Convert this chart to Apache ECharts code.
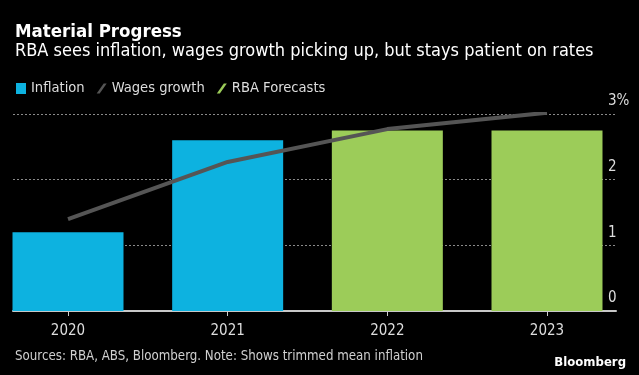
<!DOCTYPE html>
<html>
<head>
<meta charset="utf-8">
<script src="https://cdn.jsdelivr.net/npm/echarts@6/dist/echarts.min.js"></script>
<style>
  html, body { margin: 0; padding: 0; background: #000; }
  #chart { width: 639px; height: 375px; }
</style>
</head>
<body>
<div id="chart"></div>
<script>
const years = ['2020', '2021', '2022', '2023']
const inflation = [1.2, 2.6, null, null]
const forecasts = [null, null, 2.75, 2.75]
const wages = [1.4, 2.27, 2.77, 3.02]
const yTicks = [0, 1, 2, 3]

const font = '"DejaVu Sans Condensed", sans-serif'
const slash = 'path://M0,10 L7,0 L10,0 L3,10 Z'

const chart = echarts.init(document.getElementById('chart'))

chart.setOption({
  backgroundColor: '#000',
  animation: false,
  textStyle: { fontFamily: font },
  title: [
    {
      text: 'Material Progress',
      left: 10, top: 18,
      textStyle: { color: '#fff', fontSize: 18.5, fontWeight: 'bold', fontFamily: font }
    },
    {
      text: 'RBA sees inflation, wages growth picking up, but stays patient on rates',
      left: 10, top: 37,
      textStyle: { color: '#fff', fontSize: 18, fontWeight: 'normal', fontFamily: font }
    },
    {
      text: 'Sources: RBA, ABS, Bloomberg. Note: Shows trimmed mean inflation',
      left: 10, top: 345,
      textStyle: { color: '#d0d0d0', fontSize: 13.2, fontWeight: 'normal', fontFamily: font }
    },
    {
      text: 'Bloomberg',
      right: 8, top: 351,
      textStyle: { color: '#fff', fontSize: 13, fontWeight: 'bold', fontFamily: font }
    }
  ],
  legend: {
    left: 11, top: 76,
    itemWidth: 10, itemHeight: 11, itemGap: 12,
    textStyle: { color: '#ddd', fontSize: 14.6, fontFamily: font },
    data: [
      { name: 'Inflation', icon: 'rect' },
      { name: 'Wages growth', icon: slash, itemStyle: { color: '#555' } },
      { name: 'RBA Forecasts', icon: slash, itemStyle: { color: '#9ccc59' } }
    ]
  },
  grid: [
    { left: 68, right: 92, top: 114, bottom: 64 },
    { left: 13, right: 23, top: 114, bottom: 64 }
  ],
  xAxis: [
    {
      gridIndex: 0,
      type: 'category',
      data: years,
      boundaryGap: false,
      axisLine: { show: false },
      axisTick: { show: true, length: 5, lineStyle: { color: '#ccc', width: 1 } },
      axisLabel: { color: '#ddd', fontSize: 15, margin: 13, fontFamily: font }
    },
    {
      gridIndex: 1,
      type: 'value',
      min: 0, max: 1,
      axisLine: { show: true, lineStyle: { color: '#c8c8c8', width: 2 } },
      axisTick: { show: false },
      axisLabel: { show: false },
      splitLine: { show: false }
    }
  ],
  yAxis: [
    {
      gridIndex: 0,
      type: 'value',
      min: 0, max: 3,
      show: false
    },
    {
      gridIndex: 1,
      type: 'value',
      position: 'right',
      min: 0, max: 3, interval: 1,
      axisLine: { show: false },
      axisTick: { show: false },
      axisLabel: {
        color: '#ddd', fontSize: 15, fontFamily: font,
        align: 'left', verticalAlign: 'bottom', margin: -8,
        padding: [0, 0, 5, 0],
        formatter: v => (v === yTicks[yTicks.length - 1] ? v + '%' : String(v))
      },
      splitLine: { show: true, lineStyle: { color: '#8a8a8a', type: [2, 2], width: 1 } }
    }
  ],
  series: [
    {
      name: 'Inflation',
      type: 'bar',
      xAxisIndex: 0, yAxisIndex: 0,
      data: inflation,
      barWidth: 111,
      clip: false,
      itemStyle: { color: '#0db2e0' }
    },
    {
      name: 'RBA Forecasts',
      type: 'bar',
      xAxisIndex: 0, yAxisIndex: 0,
      data: forecasts,
      barWidth: 111,
      barGap: '-100%',
      clip: false,
      itemStyle: { color: '#9ccc59' }
    },
    {
      name: 'Wages growth',
      type: 'line',
      xAxisIndex: 0, yAxisIndex: 0,
      data: wages,
      symbol: 'none',
      z: 5,
      lineStyle: { color: '#555', width: 4 },
      itemStyle: { color: '#555' }
    }
  ]
})
</script>
</body>
</html>
